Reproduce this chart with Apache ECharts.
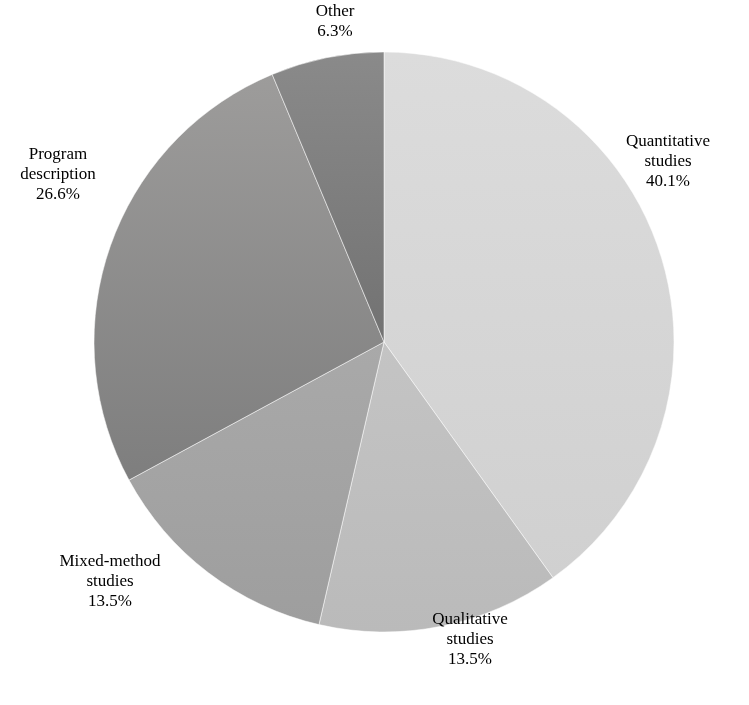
<!DOCTYPE html>
<html>
<head>
<meta charset="utf-8">
<script src="https://cdn.jsdelivr.net/npm/echarts@6/dist/echarts.min.js"></script>
<style>html,body{margin:0;background:#fff}#chart{width:749px;height:705px}</style>
</head>
<body>
<div id="chart"></div>
<script>
// study types share
const categories = ['Quantitative\nstudies', 'Qualitative\nstudies', 'Mixed-method\nstudies', 'Program\ndescription', 'Other'];
const values = [40.1, 13.5, 13.5, 26.6, 6.3];
const colors = [
    ['#dcdcdc', '#d0d0d0'],
    ['#c4c4c4', '#bababa'],
    ['#a9a9a9', '#9e9e9e'],
    ['#9d9c9b', '#7e7e7e'],
    ['#8a8a8a', '#727272']
];
// where each label sits (centre of text block)
const labelPos = [[668, 162], [470, 640], [110, 582], [58, 175], [335, 22]];

const chart = echarts.init(document.getElementById('chart'));
chart.setOption({
    animation: false,
    series: [{
        type: 'pie',
        center: [384, 342],
        radius: 290,
        startAngle: 90,
        clockwise: true,
        label: {
            position: 'outside',
            formatter: p => p.name + '\n' + p.value.toFixed(1) + '%',
            fontFamily: 'Liberation Serif',
            fontSize: 17,
            lineHeight: 20,
            color: '#000',
            align: 'center',
            overflow: 'none'
        },
        labelLine: {show: false},
        labelLayout: p => ({
            x: labelPos[p.dataIndex][0],
            y: labelPos[p.dataIndex][1],
            align: 'center',
            verticalAlign: 'middle'
        }),
        itemStyle: {borderColor: '#fff', borderWidth: 0.5},
        data: values.map((v, i) => ({
            name: categories[i],
            value: v,
            itemStyle: {color: new echarts.graphic.LinearGradient(0, 0, 0, 1, [
                {offset: 0, color: colors[i][0]}, {offset: 1, color: colors[i][1]}])}
        }))
    }]
});
</script>
</body>
</html>
